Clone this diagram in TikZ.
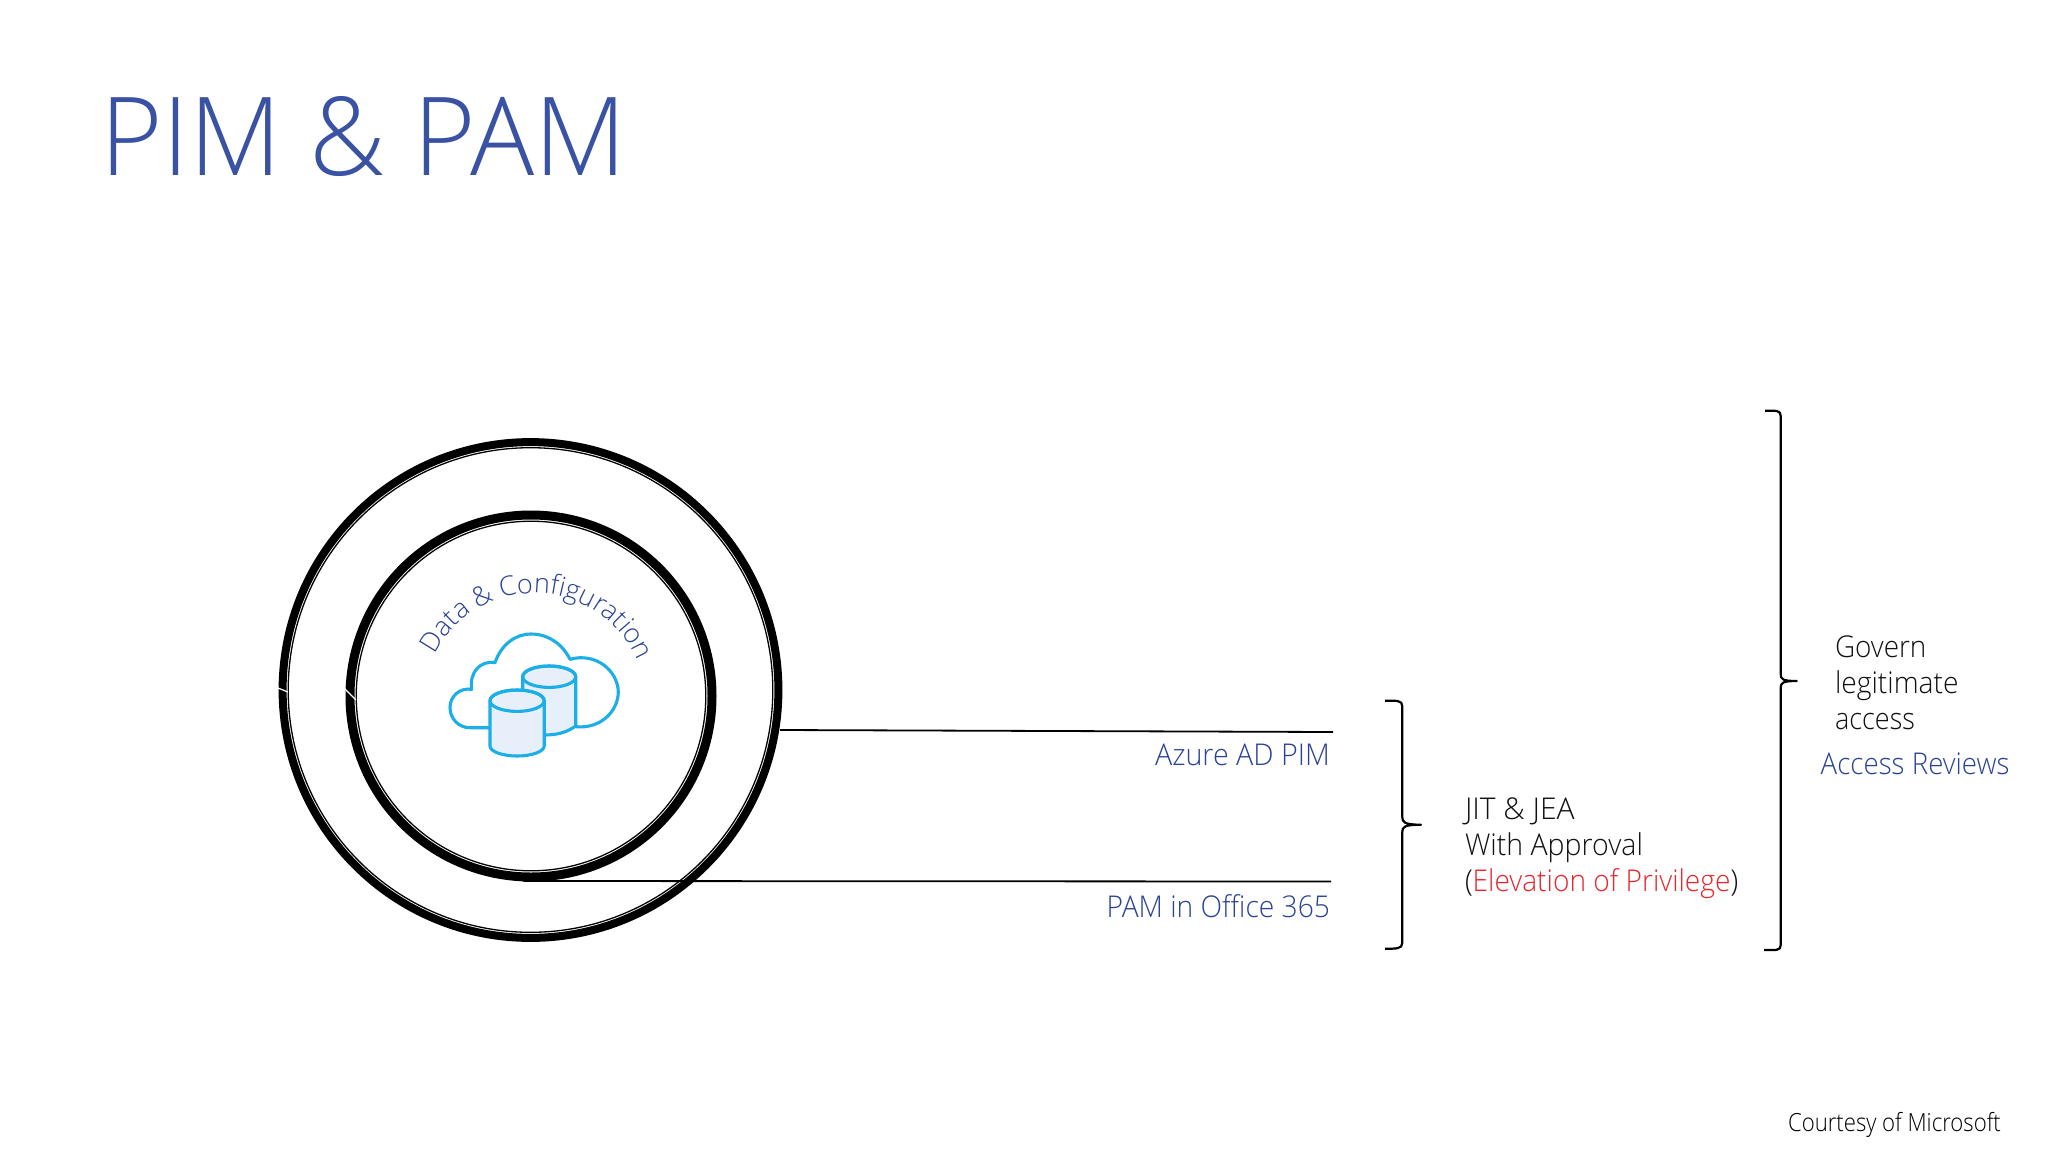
\documentclass[tikz,border=0pt]{standalone}
\usepackage{fontspec}
\usetikzlibrary{decorations.text}
\setmainfont{Open Sans Light}
\definecolor{titleblue}{HTML}{3A52A4}
\definecolor{labelblue}{HTML}{2B4395}
\definecolor{evred}{HTML}{E8262D}
\definecolor{cloudcyan}{HTML}{1CAEE6}
\definecolor{cylfill}{HTML}{E7EFFA}
\definecolor{textdark}{HTML}{111111}
\newcommand{\fs}[2][1]{\fontsize{#2}{#2}\selectfont\addfontfeature{FakeStretch=#1}}
\tikzset{
  txt/.style={inner sep=0pt,outer sep=0pt,anchor=base west},
  txtr/.style={inner sep=0pt,outer sep=0pt,anchor=base east},
  ringthick/.style={circle,draw=black,inner sep=0pt,outer sep=0pt,fill=none},
  ringthin/.style={circle,draw=black,line width=1.3pt,inner sep=0pt,outer sep=0pt,fill=none},
  connector/.style={draw=black,line width=1.8pt},
  bracket/.style={draw=black,line width=2.2pt,line join=round},
  cloudline/.style={draw=cloudcyan,line width=3.1pt,line join=round},
  cyl/.style={draw=cloudcyan,fill=cylfill,line width=3.1pt,line join=round},
}
\begin{document}
\begin{tikzpicture}[x=1pt,y=-1pt]
\useasboundingbox[fill=white] (0,0) rectangle (2048,1152);

\node[txt,text=titleblue] (title) at (100,175) {\fs[0.98]{109}PIM \& PAM};

% rings
\node[ringthick,line width=8pt,minimum size=495.8pt] (outerring) at (530.5,690) {};
\node[ringthin,minimum size=484.6pt] (outerthin) at (530.5,690) {};
\node[ringthick,line width=9pt,minimum size=362pt] (innerring) at (531,696) {};
\node[ringthin,minimum size=349.6pt] (innerthin) at (531,696) {};
\draw[white,line width=1.2pt] (278,688) -- (288,692);
\draw[white,line width=1.2pt] (344,688) -- (356,700);

% curved label
\path[decorate,decoration={text along path,text align={fit to path},
  text={|\fontsize{27}{27}\selectfont\color{labelblue}|Data {\&} Configuration}}]
  (534.5,705.5) ++(153:112.4pt) arc[start angle=153,end angle=27,radius=112.4pt];

% cloud
\draw[cloudline] (490,727.7) -- (470,727.7)
  .. controls (458,727.7) and (450,718) .. (450,707.5)
  .. controls (450,696) and (460,687.5) .. (471.7,689.3)
  .. controls (469,673) and (480,660) .. (495,662.7)
  .. controls (501,645) and (515,634) .. (531,634)
  .. controls (549,634) and (563,645) .. (570,659.3)
  .. controls (596,652) and (618,671) .. (618.3,692)
  .. controls (618,712) and (600,729) .. (576,726.7);

% back cylinder
\draw[cyl] (522.7,676.7) -- (522.7,700) -- (544,730) -- (544,735)
  .. controls (556,735) and (566,733) .. (575.7,726) -- (575.7,676.7)
  arc[start angle=0,end angle=180,x radius=26.5pt,y radius=10.7pt] -- cycle;
\draw[draw=cloudcyan,line width=3.1pt] (549.2,676.7) ellipse[x radius=26.5pt,y radius=10.7pt];
% front cylinder
\draw[cyl] (490,700.7) -- (490,746)
  arc[start angle=180,end angle=360,x radius=27.1pt,y radius=10pt]
  -- (544.2,700.7)
  arc[start angle=0,end angle=180,x radius=27.1pt,y radius=10.7pt] -- cycle;
\draw[draw=cloudcyan,line width=3.1pt] (517.1,700.7) ellipse[x radius=27.1pt,y radius=10.7pt];

% connectors
\coordinate (azstart) at (780,730);
\coordinate (azend) at (1333,732);
\coordinate (pamstart) at (523.4,881);
\coordinate (pamend) at (1331,881.5);
\draw[connector] (azstart) -- (azend);
\draw[connector] (pamstart) -- (pamend);

\node[txtr,text=labelblue] (azlabel) at (1330,765) {\fs[0.957]{30}Azure AD PIM};
\node[txtr,text=labelblue] (pamlabel) at (1330,917) {\fs[0.94]{30}PAM in Office 365};

% bracket JIT
\draw[bracket] (1385,700.7) .. controls (1396,700.7) and (1402.3,700) .. (1402.3,706)
  -- (1402.3,817) .. controls (1402.3,822) and (1404,824.7) .. (1421,824.7)
  .. controls (1404,824.7) and (1402.3,827) .. (1402.3,832)
  -- (1402.3,943) .. controls (1402.3,949) and (1396,948.7) .. (1385,948.7);
% bracket Govern
\draw[bracket] (1765,410.7) .. controls (1776,410.7) and (1780.7,410) .. (1780.7,416)
  -- (1780.7,674) .. controls (1780.7,679) and (1782,681) .. (1796.7,681)
  .. controls (1782,681) and (1780.7,683) .. (1780.7,688)
  -- (1780.7,945) .. controls (1780.7,951) and (1776,950) .. (1764,950);

\node[txt,text=textdark] (jit) at (1465,819.3) {\fs[1.0]{30}JIT \& JEA};
\node[txt,text=textdark] (approval) at (1465,855) {\fs[0.95]{30}With Approval};
\node[txt,text=textdark] (elev) at (1465,891.5) {\fs[0.9375]{30}(\textcolor{evred}{Elevation of Privilege})};

\node[txt,text=textdark] (govern) at (1835,657) {\fs[0.93]{30}Govern};
\node[txt,text=textdark] (legit) at (1835,693.7) {\fs[0.94]{30}legitimate};
\node[txt,text=textdark] (access) at (1835,729) {\fs[0.9]{30}access};
\node[txt,text=labelblue] (reviews) at (1820.7,774) {\fs[0.923]{30}Access Reviews};

\node[txt,text=black] (courtesy) at (1788,1131) {\fs[0.886]{25}Courtesy of Microsoft};
\end{tikzpicture}
\end{document}
